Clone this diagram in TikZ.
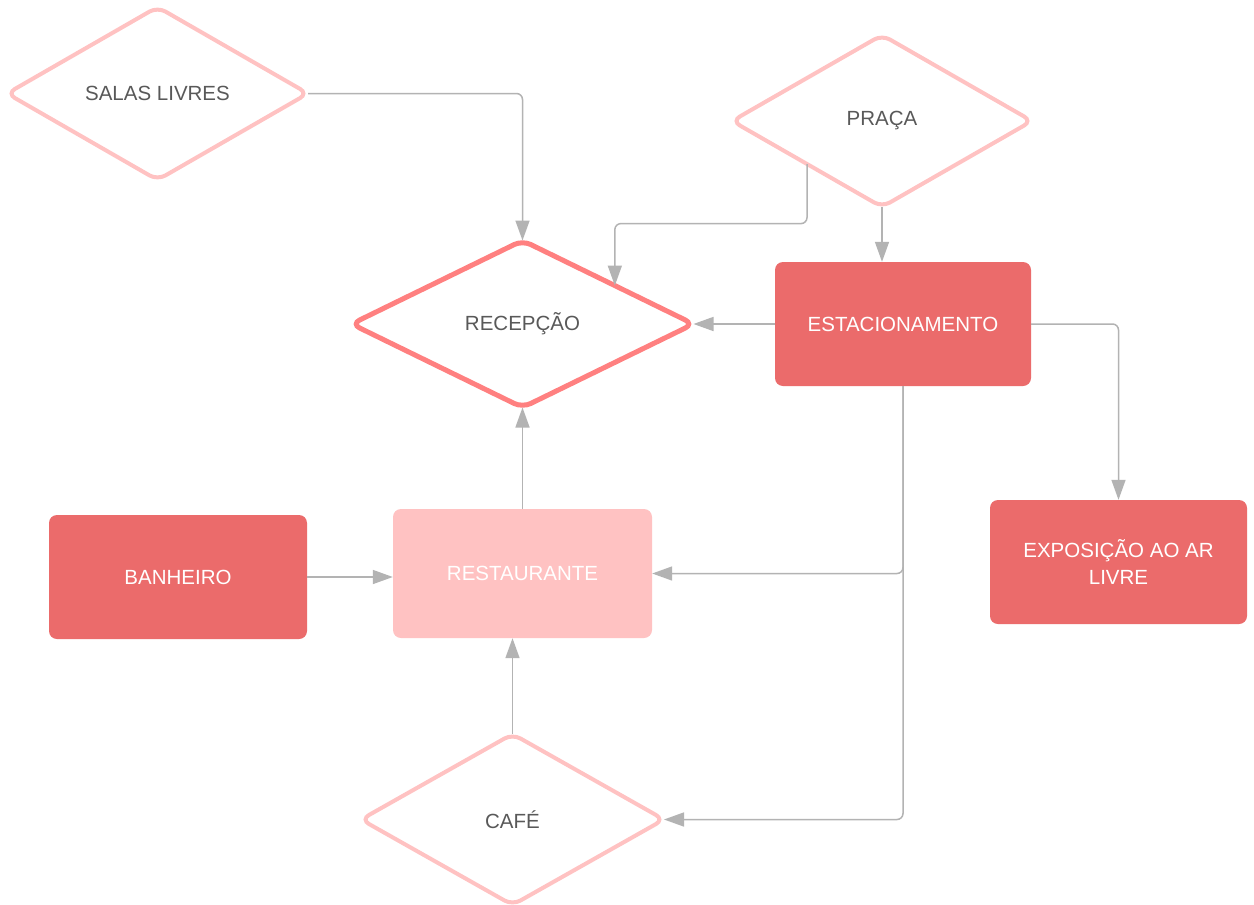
\documentclass[tikz,border=0pt]{standalone}
\usepackage{fontspec}
\setmainfont{Liberation Sans}
\usetikzlibrary{shapes.geometric,arrows.meta,calc}
\definecolor{darkred}{HTML}{EB6B6B}
\definecolor{lightpink}{HTML}{FFC2C2}
\definecolor{pinkline}{HTML}{FFC2C2}
\definecolor{recline}{HTML}{FF8080}
\definecolor{conngray}{HTML}{B3B3B3}
\definecolor{textgray}{HTML}{595959}
\begin{document}
\begin{tikzpicture}[x=1pt,y=-1pt,
  every node/.style={font=\fontsize{20.5}{27}\selectfont},
  dia/.style={shape=diamond,draw=pinkline,line width=4pt,fill=white,rounded corners=9pt,inner sep=0pt,outer sep=0pt,text=textgray},
  box/.style={shape=rectangle,rounded corners=8pt,inner sep=0pt,fill=darkred,text=white,align=center},
  conn/.style={draw=conngray,line width=1.5pt,rounded corners=6pt,-{Triangle[length=20pt,width=14pt]}},
]
\useasboundingbox (0,0) rectangle (1254,905);
\fill[white] (0,0) rectangle (1254,905);

\node[dia,minimum width=301pt,minimum height=173pt] (salas) at (157.5,93.5) {SALAS LIVRES};
\node[dia,minimum width=300pt,minimum height=172pt] (praca) at (882,121) {PRAÇA};
\node[dia,draw=recline,line width=5pt,minimum width=342pt,minimum height=167pt] (recep) at (522.5,324) {RECEPÇÃO};
\node[dia,minimum width=303pt,minimum height=171pt] (cafe) at (512.5,819.5) {CAFÉ};

\node[box,minimum width=256pt,minimum height=124pt] (estac) at (903,324) {ESTACIONAMENTO};
\node[box,minimum width=258pt,minimum height=124pt] (banh) at (178,577) {BANHEIRO};
\node[box,fill=lightpink,minimum width=259pt,minimum height=129pt] (rest) at (522.5,573.5) {RESTAURANTE};
\node[box,minimum width=257pt,minimum height=124pt] (expo) at (1118.5,562) {EXPOSIÇÃO AO AR\\LIVRE};

\coordinate (rtarget) at ($(recep.north)!0.54!(recep.east)$);

\draw[conn] (salas.east) -| (recep.north);
\draw[conn] (praca.south west) |- ($(rtarget)+(0,-62)$) -- (rtarget);
\draw[conn] (praca.south) -- (praca.south |- estac.north);
\draw[conn] (estac.west) -- (recep.east);
\draw[conn] (estac.east) -| (expo.north);
\draw[conn] (estac.south) |- (rest.east);
\draw[conn] (estac.south) |- (cafe.east);
\draw[conn] (rest.north) -- (recep.south);
\draw[conn] (banh.east) -- (banh.east -| rest.west);
\draw[conn] (cafe.north) -- (cafe.north |- rest.south);
\end{tikzpicture}
\end{document}
